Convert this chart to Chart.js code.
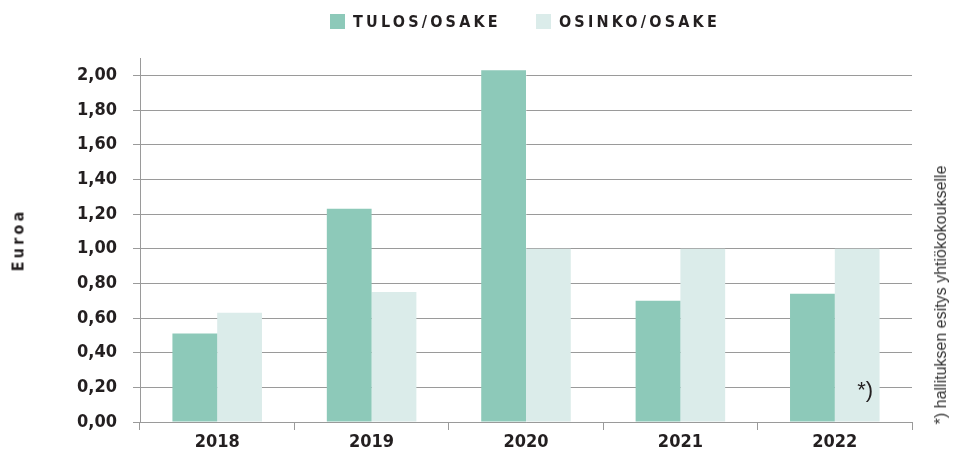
<!DOCTYPE html>
<html>
<head>
<meta charset="utf-8">
<script src="https://cdn.jsdelivr.net/npm/chart.js@4"></script>
<style>
  body { margin: 0; background: #fff; }
  #wrap { position: relative; width: 954px; height: 457px; }
  #legend { position: absolute; top: 12px; left: 330px; display: flex; align-items: center;
    font: bold 16px "DejaVu Sans Condensed", sans-serif; letter-spacing: 3.2px; color: #231f20; }
  #legend span.box { display: inline-block; width: 15px; height: 15px; margin-right: 8px; }
  #legend .item { display: flex; align-items: center; margin-right: 35px; }
  #ytitle { position: absolute; left: 18px; top: 240px; transform: translate(-50%, -50%) rotate(-90deg);
    font: bold 16px "DejaVu Sans Condensed", sans-serif; letter-spacing: 3.2px; color: #231f20; white-space: nowrap; }
  #note { position: absolute; left: 941px; top: 295px; transform: translate(-50%, -50%) rotate(-90deg);
    font: 16px "Liberation Sans", sans-serif; color: #333; white-space: nowrap; }
</style>
</head>
<body>
<div id="wrap">
  <canvas id="chart" width="954" height="457"></canvas>
  <div id="legend"></div>
  <div id="ytitle"></div>
  <div id="note"></div>
</div>
<script>
// data
var years = ["2018", "2019", "2020", "2021", "2022"];
var tulos = [0.51, 1.23, 2.03, 0.70, 0.74];
var osinko = [0.63, 0.75, 1.00, 1.00, 1.00];
var yTicks = [0, 0.2, 0.4, 0.6, 0.8, 1.0, 1.2, 1.4, 1.6, 1.8, 2.0];
var seriesNames = ["TULOS/OSAKE", "OSINKO/OSAKE"];
var seriesColors = ["#8dc9b9", "#dbecea"];
var yTitle = "Euroa";
var noteText = "*) hallituksen esitys yhtiökokoukselle";
var markText = "*)";

var font = "'DejaVu Sans Condensed', sans-serif";
var gridColor = "#9a9a9a";

// html legend + titles
var legend = document.getElementById("legend");
seriesNames.forEach(function (name, i) {
    var item = document.createElement("div");
    item.className = "item";
    var box = document.createElement("span");
    box.className = "box";
    box.style.background = seriesColors[i];
    item.appendChild(box);
    item.appendChild(document.createTextNode(name));
    legend.appendChild(item);
});
document.getElementById("ytitle").textContent = yTitle;
document.getElementById("note").textContent = noteText;

// "*)" mark inside the last osinko bar
var markPlugin = {
    id: "mark",
    afterDatasetsDraw: function (chart) {
        var meta = chart.getDatasetMeta(1);
        var bar = meta.data[meta.data.length - 1];
        var y = chart.scales.y.getPixelForValue(0.2);
        var ctx = chart.ctx;
        ctx.save();
        ctx.fillStyle = "#231f20";
        ctx.font = "22px 'Liberation Sans', sans-serif";
        ctx.textAlign = "center";
        ctx.textBaseline = "middle";
        ctx.fillText(markText, bar.x + 8, y + 4);
        ctx.restore();
    }
};

var ctx = document.getElementById("chart").getContext("2d");
var chart = new Chart(ctx, {
    type: "bar",
    data: {
        labels: years,
        datasets: [{
            label: seriesNames[0],
            data: tulos,
            backgroundColor: seriesColors[0],
            borderWidth: 0
        }, {
            label: seriesNames[1],
            data: osinko,
            backgroundColor: seriesColors[1],
            borderWidth: 0
        }]
    },
    options: {
        responsive: false,
        animation: false,
        categoryPercentage: 0.58,
        barPercentage: 1.0,
        layout: { padding: { top: 58, right: 42, left: 0, bottom: 0 } },
        plugins: { legend: { display: false }, tooltip: { enabled: false } },
        scales: {
            x: {
                grid: { offset: true, drawOnChartArea: false, color: gridColor, tickLength: 8 },
                border: { color: gridColor },
                ticks: { color: "#231f20", font: { family: font, size: 18, weight: "bold" }, padding: 2 },
                afterFit: function (s) { s.height = 35; }
            },
            y: {
                min: 0,
                max: 2.1,
                grid: { color: gridColor, tickLength: 7 },
                border: { color: gridColor },
                afterBuildTicks: function (s) {
                    s.ticks = yTicks.map(function (v) { return { value: v }; });
                },
                ticks: {
                    color: "#231f20",
                    font: { family: font, size: 18, weight: "bold" },
                    padding: 16,
                    callback: function (v) {
                        return v.toFixed(2).replace(".", ",");
                    }
                },
                afterFit: function (s) { s.width = 140; }
            }
        }
    },
    plugins: [markPlugin]
});
</script>
</body>
</html>
